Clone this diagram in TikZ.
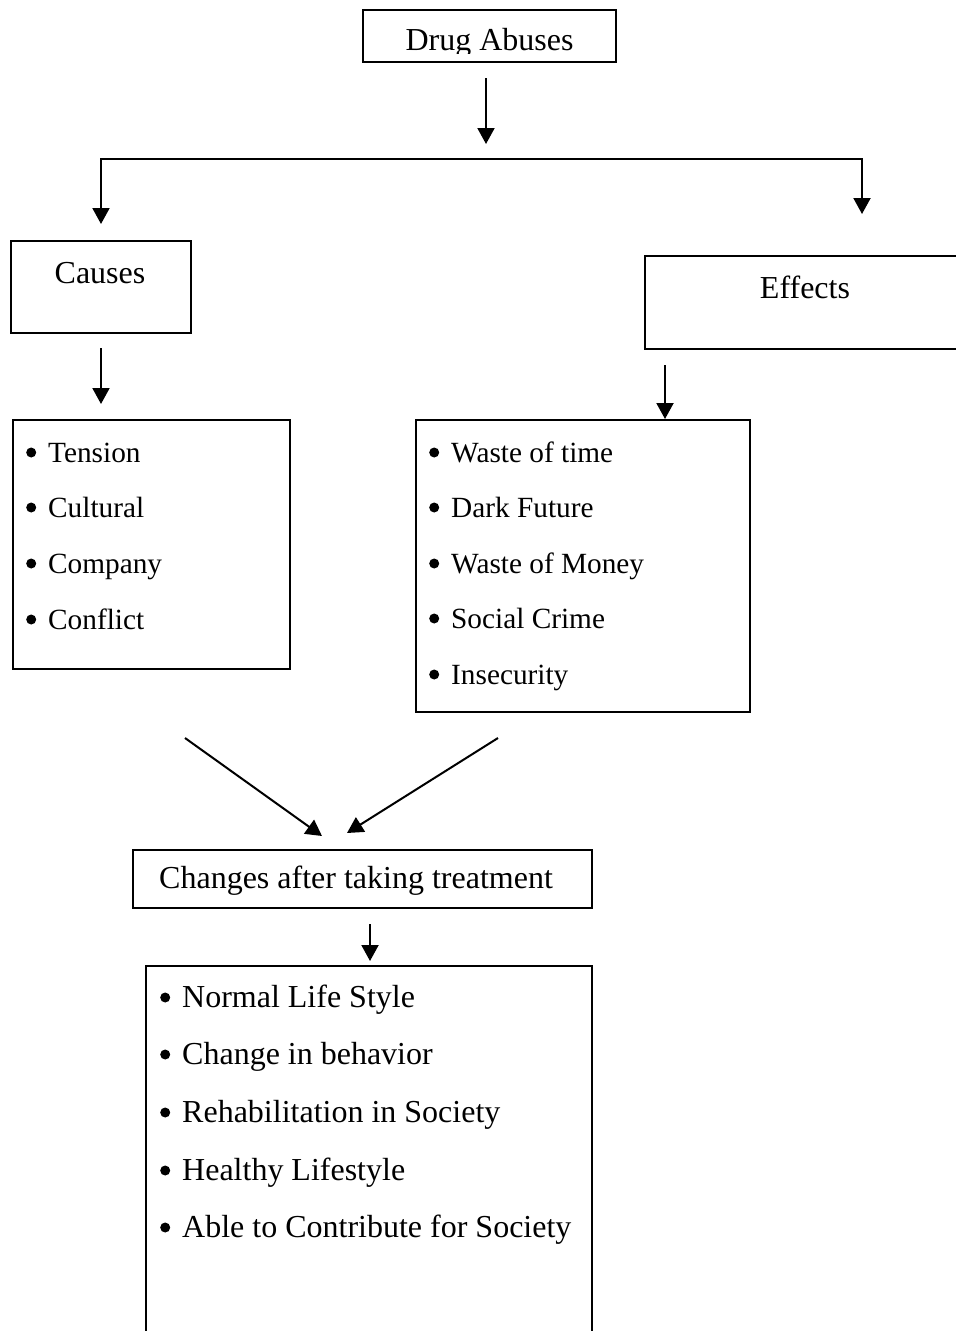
\documentclass[tikz,border=0pt]{standalone}
\usepackage{fontspec}
\setmainfont{Liberation Serif}
\usetikzlibrary{arrows.meta}
\begin{document}
\begin{tikzpicture}[x=1pt,y=-1pt,
  box/.style={draw, line width=1.9pt, rectangle, inner sep=0pt},
  txt/.style={inner sep=0pt, font=\fontsize{32pt}{38pt}\selectfont},
  itm/.style={txt, anchor=base west},
  sitm/.style={inner sep=0pt, anchor=base west, font=\fontsize{29.3pt}{35pt}\selectfont},
  arr/.style={line width=2pt, -{Triangle[length=16pt,width=17pt]}},
  darr/.style={line width=2pt, {Triangle[length=16pt,width=17pt]}-{Triangle[length=16pt,width=17pt]}}]
\useasboundingbox (0,0) rectangle (956,1331);
\clip (0,0) rectangle (956,1331);
\fill[white] (0,0) rectangle (956,1331);
\newcommand{\bul}[1]{\makebox[34pt][c]{\tikz[baseline=0pt]\fill (0pt,9.5pt) circle (5pt);}#1}
% boxes
\node[box, minimum width=253pt, minimum height=52pt] (drug) at (489.5,36) {};
\begin{scope}
\clip (363,10) rectangle (616,53);
\node[txt, anchor=base] (drugt) at (489.5,50) {Drug Abuses};
\end{scope}
\node[box, minimum width=180pt, minimum height=92pt] (causes) at (101,287) {};
\node[txt, anchor=base] (causest) at (100,283) {Causes};
\node[box, minimum width=330pt, minimum height=93pt] (effects) at (810,302.5) {};
\node[txt, anchor=base] (effectst) at (805,298) {Effects};
\node[box, minimum width=277pt, minimum height=249pt] (clist) at (151.5,544.5) {};
\node[sitm] (c1) at (14,462) {\bul{Tension}};
\node[sitm] (c2) at (14,517) {\bul{Cultural}};
\node[sitm] (c3) at (14,573) {\bul{Company}};
\node[sitm] (c4) at (14,629) {\bul{Conflict}};
\node[box, minimum width=334pt, minimum height=292pt] (elist) at (583,566) {};
\node[sitm] (e1) at (417,462) {\bul{Waste of time}};
\node[sitm] (e2) at (417,517) {\bul{Dark Future}};
\node[sitm] (e3) at (417,573) {\bul{Waste of Money}};
\node[sitm] (e4) at (417,628) {\bul{Social Crime}};
\node[sitm] (e5) at (417,684) {\bul{Insecurity}};
\node[box, minimum width=459pt, minimum height=58pt] (changes) at (362.5,879) {};
\node[txt, anchor=base west] (changest) at (159,888) {Changes after taking treatment};
\node[box, minimum width=446pt, minimum height=379pt] (result) at (369,1155.5) {};
\node[itm] (r1) at (148,1007) {\bul{Normal Life Style}};
\node[itm] (r2) at (148,1064) {\bul{Change in behavior}};
\node[itm] (r3) at (148,1122) {\bul{Rehabilitation in Society}};
\node[itm] (r4) at (148,1180) {\bul{Healthy Lifestyle}};
\node[itm] (r5) at (148,1237) {\bul{Able to Contribute for Society}};
% connector end points
\coordinate (a1s) at (486,78);
\coordinate (a1e) at (486,144);
\coordinate (cl) at (101,224);
\coordinate (hl) at (101,159);
\coordinate (hr) at (862,159);
\coordinate (cr) at (862,214);
\coordinate (a2s) at (101,348);
\coordinate (a2e) at (101,404);
\coordinate (a3s) at (665,365);
\coordinate (a3e) at (665,419);
\coordinate (d1s) at (185,738);
\coordinate (d1e) at (322,836);
\coordinate (d2s) at (498,738);
\coordinate (d2e) at (347,833);
\coordinate (a4s) at (370,924);
\coordinate (a4e) at (370,961);
% connectors
\draw[arr] (a1s) -- (a1e);
\draw[darr] (cl) -- (hl) -- (hr) -- (cr);
\draw[arr] (a2s) -- (a2e);
\draw[arr] (a3s) -- (a3e);
\draw[arr] (d1s) -- (d1e);
\draw[arr] (d2s) -- (d2e);
\draw[arr] (a4s) -- (a4e);
\end{tikzpicture}
\end{document}
